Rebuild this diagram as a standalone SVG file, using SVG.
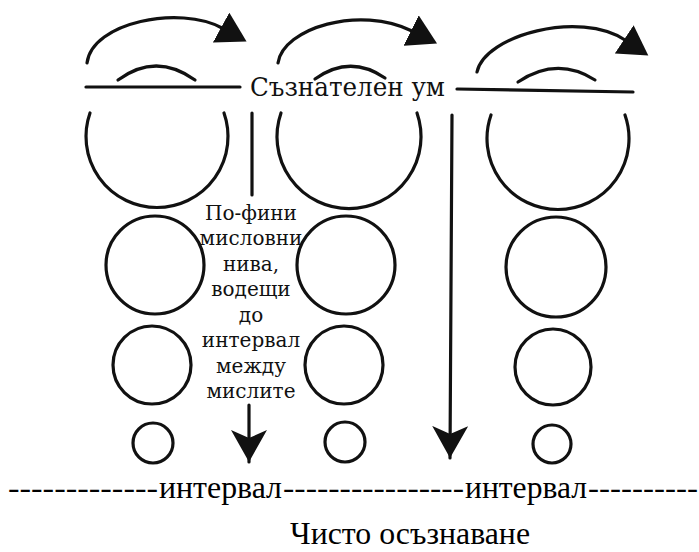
<svg xmlns="http://www.w3.org/2000/svg" width="699" height="552" viewBox="0 0 699 552">
<style>
.s{fill:none;stroke:#111;stroke-width:3.2;stroke-linecap:round}
.head{fill:#111;stroke:none}
.t1{font-family:"DejaVu Serif","Liberation Serif",serif;font-size:26px;fill:#111}
.t2{font-family:"DejaVu Serif","Liberation Serif",serif;font-size:20px;fill:#111;text-anchor:middle}
.t3{font-family:"Liberation Serif","Times New Roman",serif;font-size:32px;fill:#000}
</style>
<defs>
<marker id="tri" markerUnits="userSpaceOnUse" markerWidth="30" markerHeight="34" viewBox="0 0 30 34" refX="1" refY="17" orient="auto">
<path class="head" d="M0,0 L29,17 L0,34 Z"/>
</marker>
<marker id="barb" markerUnits="userSpaceOnUse" markerWidth="32" markerHeight="36" viewBox="0 0 32 36" refX="32" refY="18" orient="auto">
<path class="head" d="M0,0 L32,18 L0,36 L8,18 Z"/>
</marker>
</defs>
<rect width="699" height="552" fill="#fff"/>

<g id="col1">
<path class="s" d="M90,113 A71,71 0 1 0 224,113"/>
<circle class="s" cx="155" cy="265" r="49"/>
<circle class="s" cx="152" cy="365" r="39"/>
<circle class="s" cx="153" cy="443" r="20"/>
</g>
<g id="col2">
<path class="s" d="M281,113 A72,72 0 1 0 417,113"/>
<circle class="s" cx="346" cy="265" r="49"/>
<circle class="s" cx="344" cy="365" r="39"/>
<circle class="s" cx="345" cy="442" r="20"/>
</g>
<g id="col3">
<path class="s" d="M491,115 A71,71 0 1 0 625,115"/>
<circle class="s" cx="556" cy="267" r="50"/>
<circle class="s" cx="553" cy="367" r="38"/>
<circle class="s" cx="552" cy="444" r="19"/>
</g>

<g id="connectors">
<path class="s" d="M87,63 C92,22 180,5 222,28" marker-end="url(#tri)"/>
<path class="s" d="M278,63 C283,28 360,5 412,31" marker-end="url(#tri)"/>
<path class="s" d="M477,72 C485,35 580,10 625,40" marker-end="url(#tri)"/>
<path class="s" d="M118,80 Q156,52 195,80"/>
<path class="s" d="M315,79 Q350,54 385,78"/>
<path class="s" d="M518,82 Q557,56 595,80"/>
<path class="s" d="M86,87 L240,87"/>
<path class="s" d="M457,89 L633,92"/>
<path class="s" d="M252,113 L252,195"/>
<path class="s" d="M249,405 L249,462" marker-end="url(#barb)"/>
<path class="s" d="M452,115 L450,458" marker-end="url(#barb)"/>
</g>

<g id="label-mind">
<text class="t1" x="250" y="96" textLength="195" lengthAdjust="spacingAndGlyphs">Съзнателен ум</text>
</g>
<g id="label-levels">
<text class="t2" x="251" y="219.5">По-фини</text>
<text class="t2" x="251" y="245">мисловни</text>
<text class="t2" x="251" y="270.5">нива,</text>
<text class="t2" x="251" y="296">водещи</text>
<text class="t2" x="251" y="321.5">до</text>
<text class="t2" x="251" y="347">интервал</text>
<text class="t2" x="251" y="372.5">между</text>
<text class="t2" x="251" y="398">мислите</text>
</g>
<g id="label-interval">
<text class="t3" y="498"><tspan x="8" textLength="150" lengthAdjust="spacingAndGlyphs">-------------</tspan><tspan x="159" textLength="123" lengthAdjust="spacingAndGlyphs">интервал</tspan><tspan x="283" textLength="181" lengthAdjust="spacingAndGlyphs">----------------</tspan><tspan x="465" textLength="122" lengthAdjust="spacingAndGlyphs">интервал</tspan><tspan x="588" textLength="110" lengthAdjust="spacingAndGlyphs">----------</tspan></text>
</g>
<g id="label-awareness">
<text class="t3" x="290" y="544" font-size="31" textLength="240" lengthAdjust="spacingAndGlyphs">Чисто осъзнаване</text>
</g>
</svg>
